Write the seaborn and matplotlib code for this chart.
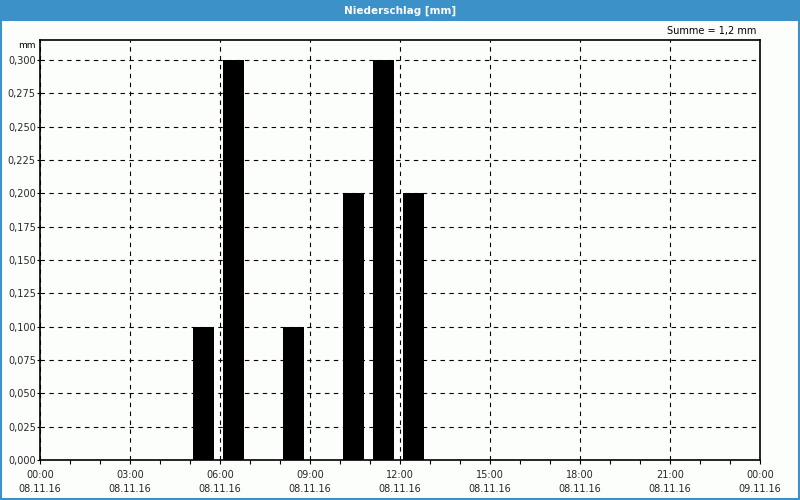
import matplotlib
matplotlib.use("Agg")
import matplotlib.pyplot as plt
import seaborn as sns
import pandas as pd
from matplotlib.patches import Rectangle
from matplotlib.ticker import FixedLocator, MultipleLocator, FuncFormatter

# ---- data ----
hours = [5, 6, 8, 10, 11, 12]          # hour of day (start of interval)
values = [0.1, 0.3, 0.1, 0.2, 0.3, 0.2]  # mm
tick_times = ["00:00", "03:00", "06:00", "09:00", "12:00", "15:00", "18:00", "21:00", "00:00"]
tick_dates = ["08.11.16"] * 8 + ["09.11.16"]
title = "Niederschlag [mm]"
total_label = "Summe = 1,2 mm"
unit = "mm"

sns.set_theme(style="white")
plt.rcParams['font.family'] = ['DejaVu Sans']

df = pd.DataFrame({"pos": [h + 0.45 for h in hours], "mm": values})

fig = plt.figure(figsize=(8, 5), dpi=100)
fig.patch.set_facecolor("#fcfefc")
ax = fig.add_axes([0.05, 0.08, 0.90, 0.84])
ax.set_facecolor("#fcfefc")

sns.barplot(data=df, x="pos", y="mm", native_scale=True, width=0.68,
            color="black", saturation=1, edgecolor="none", ax=ax)

ax.set_xlim(0, 24)
ax.set_ylim(0, 0.315)
ax.set_xlabel("")
ax.set_ylabel("")

ax.xaxis.set_major_locator(FixedLocator(list(range(0, 25, 3))))
ax.xaxis.set_minor_locator(MultipleLocator(1))
ax.set_xticklabels([f"{t}\n{d}" for t, d in zip(tick_times, tick_dates)],
                   fontsize=7, linespacing=1.5)
ax.yaxis.set_major_locator(MultipleLocator(0.025))
ax.yaxis.set_major_formatter(FuncFormatter(lambda v, p: f"{v:.3f}".replace(".", ",")))
ax.tick_params(axis="y", labelsize=7, length=2, width=0.8, color="black", pad=1, left=True)
ax.tick_params(axis="x", which="major", labelsize=7, length=3, width=0.8, color="black", pad=4, bottom=True)
ax.tick_params(axis="x", which="minor", length=3, width=0.8, color="black", bottom=True)

ax.grid(True, which="major", color="black", linestyle=(0, (4, 4)), linewidth=0.8)
ax.set_axisbelow(True)
for s in ax.spines.values():
    s.set_color("black")
    s.set_linewidth(1.2)

# title bar and border
fig.patches.append(Rectangle((0, 0.958), 1, 0.042, transform=fig.transFigure,
                             facecolor="#3c92c8", edgecolor="none", zorder=0))
fig.patches.append(Rectangle((0.0012, 0.002), 0.9976, 0.996, transform=fig.transFigure,
                             facecolor="none", edgecolor="#3c92c8", linewidth=1.5, zorder=5))
fig.text(0.5, 0.979, title, color="white", fontsize=7.5, ha="center", va="center",
         fontweight="semibold")
fig.text(0.946, 0.938, total_label, fontsize=7, ha="right", va="center", color="black")
fig.text(0.045, 0.91, unit, fontsize=6.5, ha="right", va="center", color="black")

fig.savefig("out.png", dpi=100, facecolor=fig.get_facecolor())
